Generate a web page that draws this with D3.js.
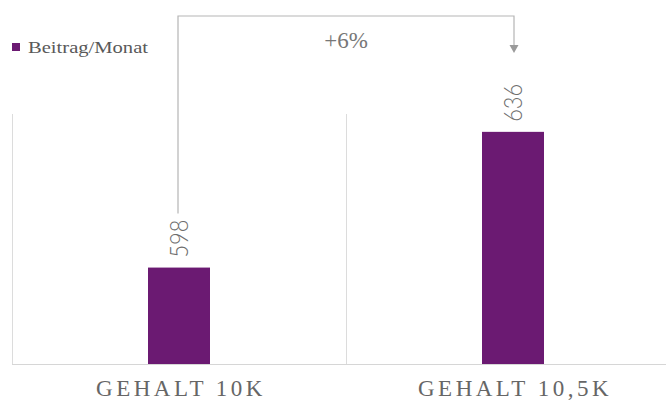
<!DOCTYPE html>
<html lang="de">
  <head>
    <meta charset="utf-8">
    <title>Beitrag/Monat</title>
    <script src="https://d3js.org/d3.v7.min.js"></script>
    <style>
      body { margin: 0; background: #fff; }
    </style>
  </head>
  <body>
    <div id="chart"></div>
    <script>
      // data
      const categories = ["GEHALT 10K", "GEHALT 10,5K"];
      const values = [598, 636];
      const seriesName = "Beitrag/Monat";
      const changeLabel = "+6%";

      const W = 666, H = 403;
      const purple = "#6b1a72";

      const svg = d3.select("#chart")
        .append("svg")
          .attr("width", W)
          .attr("height", H);

      // band per category, plot keeps going past the right edge
      const x = d3.scaleBand()
        .domain(categories)
        .range([12, 680]);

      const y = d3.scaleLinear()
        .domain([571, 641])
        .range([364, 114]);

      const barW = 62;
      const cx = d => x(d) + x.bandwidth() / 2;

      // vertical separators
      svg.append("g")
        .selectAll("line")
        .data(categories)
        .join("line")
          .attr("x1", d => x(d) + 0.5)
          .attr("x2", d => x(d) + 0.5)
          .attr("y1", y(641))
          .attr("y2", y(571))
          .attr("stroke", "#dcdcdc")
          .attr("stroke-width", 1);

      // baseline
      svg.append("line")
        .attr("x1", x.range()[0])
        .attr("x2", W)
        .attr("y1", y(571) + 0.5)
        .attr("y2", y(571) + 0.5)
        .attr("stroke", "#d6d6d6");

      // bars
      svg.append("g")
        .selectAll("rect")
        .data(categories)
        .join("rect")
          .attr("x", d => cx(d) - barW / 2)
          .attr("width", barW)
          .attr("y", (d, i) => y(values[i]))
          .attr("height", (d, i) => y(571) - y(values[i]))
          .attr("fill", purple);

      // value labels, rotated
      svg.append("g")
        .selectAll("text")
        .data(categories)
        .join("text")
          .attr("transform", (d, i) => `translate(${cx(d) + 9}, ${y(values[i]) - 10}) rotate(-90)`)
          .attr("text-anchor", "start")
          .attr("font-family", "Lato, 'Open Sans', sans-serif")
          .attr("font-weight", 300)
          .attr("font-size", 25)
          .attr("textLength", 38)
          .attr("lengthAdjust", "spacingAndGlyphs")
          .attr("fill", "#6e6e6e")
          .text((d, i) => values[i]);

      // category labels
      svg.append("g")
        .selectAll("text")
        .data(categories)
        .join("text")
          .attr("x", d => cx(d) + 2)
          .attr("y", 396)
          .attr("text-anchor", "middle")
          .attr("font-family", "'Liberation Serif', serif")
          .attr("font-size", 23)
          .attr("letter-spacing", "3.5px")
          .attr("fill", "#666")
          .text(d => d);

      // change bracket from first bar label to second bar
      const x0 = cx(categories[0]) - 1, x1 = cx(categories[1]) + 1;
      const topY = 16;
      svg.append("path")
        .attr("d", `M${x0},${y(values[0]) - 54} V${topY} H${x1} V47`)
        .attr("fill", "none")
        .attr("stroke", "#b5b5b5")
        .attr("stroke-width", 1.2);
      svg.append("path")
        .attr("d", `M${x1 - 4.5},45 L${x1 + 4.5},45 L${x1},53 Z`)
        .attr("fill", "#9a9a9a");

      svg.append("text")
        .attr("x", (x0 + x1) / 2)
        .attr("y", 48)
        .attr("text-anchor", "middle")
        .attr("font-family", "'Liberation Serif', serif")
        .attr("font-size", 23)
        .attr("fill", "#777")
        .text(changeLabel);

      // legend
      const legend = svg.append("g");
      legend.append("rect")
        .attr("x", 12)
        .attr("y", 43)
        .attr("width", 8)
        .attr("height", 8)
        .attr("fill", purple);
      legend.append("text")
        .attr("x", 28)
        .attr("y", 53)
        .attr("font-family", "'Liberation Serif', serif")
        .attr("font-size", 16)
        .attr("textLength", 120)
        .attr("lengthAdjust", "spacingAndGlyphs")
        .attr("fill", "#595959")
        .text(seriesName);
    </script>
  </body>
</html>
